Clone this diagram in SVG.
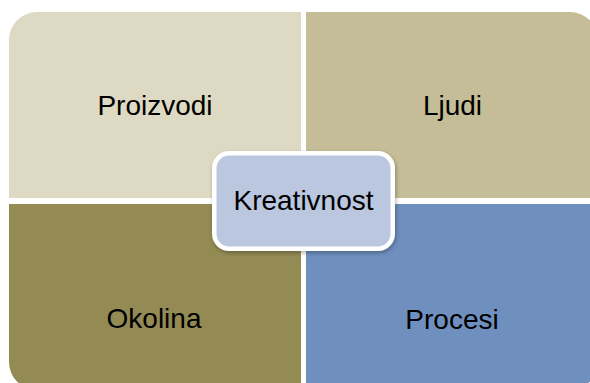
<svg xmlns="http://www.w3.org/2000/svg" width="590" height="383" viewBox="0 0 590 383">
<defs>
<style>
.lbl{font-family:"Liberation Sans",Arial,sans-serif;font-size:28px;fill:#000;text-anchor:middle}
</style>
<filter id="sh" x="-10%" y="-10%" width="130%" height="130%">
<feGaussianBlur in="SourceAlpha" stdDeviation="2"/>
<feOffset dx="1" dy="2"/>
<feComponentTransfer><feFuncA type="linear" slope="0.3"/></feComponentTransfer>
<feMerge><feMergeNode/><feMergeNode in="SourceGraphic"/></feMerge>
</filter>
</defs>
<rect width="590" height="383" fill="#fff"/>
<g id="connectors"></g>
<g id="proizvodi">
<path d="M9,40 A28,28 0 0 1 37,12 L301,12 L301,198 L9,198 Z" fill="#DDD9C3"/>
<text class="lbl" x="155" y="115">Proizvodi</text>
</g>
<g id="ljudi">
<path d="M306,12 L570,12 A28,28 0 0 1 598,40 L598,198 L306,198 Z" fill="#C4BD97"/>
<text class="lbl" x="452.5" y="115">Ljudi</text>
</g>
<g id="okolina">
<path d="M9,204 L301,204 L301,390 L37,390 A28,28 0 0 1 9,362 Z" fill="#948A54"/>
<text class="lbl" x="154" y="328">Okolina</text>
</g>
<g id="procesi">
<path d="M306,204 L598,204 L598,362 A28,28 0 0 1 570,390 L306,390 Z" fill="#6F8FBF"/>
<text class="lbl" x="452" y="329">Procesi</text>
</g>
<g id="kreativnost">
<rect x="214.25" y="153.25" width="178.5" height="95.5" rx="15" ry="15" fill="#BAC7DF" stroke="#fff" stroke-width="4.5" filter="url(#sh)"/>
<text class="lbl" x="303.5" y="210">Kreativnost</text>
</g>
</svg>
